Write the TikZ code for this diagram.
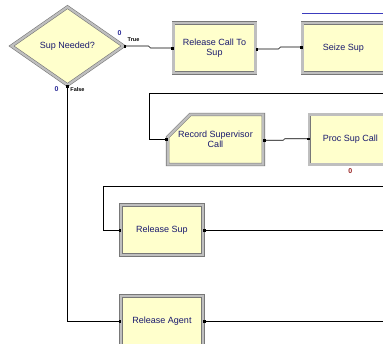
\documentclass[tikz,border=0pt]{standalone}
\usepackage{fontspec}
\setmainfont{Liberation Sans}
\usetikzlibrary{shapes.geometric,shapes.misc,arrows.meta,positioning,calc}
\definecolor{modfill}{RGB}{255,255,204}
\definecolor{modtext}{RGB}{25,25,110}
\definecolor{modframe}{RGB}{120,120,120}
\definecolor{cntblue}{RGB}{40,40,150}
\definecolor{cntred}{RGB}{150,30,30}
\definecolor{selblue}{RGB}{60,60,190}

\begin{document}
\begin{tikzpicture}[
    x=1pt, y=-1pt,
    node distance=38pt,
    >={Square[length=2.4pt,width=2.4pt]},
    module/.style={rectangle, draw=modframe, line width=0.6pt, double=black!25, double distance=2.2pt, fill=modfill, minimum width=82pt, minimum height=50pt, inner sep=1pt, outer sep=0pt, align=center, text=modtext, font=\fontsize{9}{10.5}\selectfont},
    decide/.style={module, diamond, minimum width=112pt, minimum height=78pt, aspect=1.5},
    record/.style={module, chamfered rectangle, chamfered rectangle corners=north west, chamfered rectangle xsep=13pt, chamfered rectangle ysep=13pt},
    conn/.style={line width=0.65pt, black},
    lbl/.style={inner sep=0pt, font=\fontsize{5.5}{5.5}\selectfont\bfseries},
    cnt/.style={inner sep=0pt, font=\fontsize{7}{7}\selectfont\bfseries}
]
    \fill[white] (0,0) rectangle (383,343);
    \useasboundingbox (0,0) rectangle (383,343);
    \clip (0,0) rectangle (383,343);

    % Decision
    \node[decide] (dec) at (67.5,46) {Sup Needed?};

    % True branch
    \node[module] (rcall) at (214.5,48) {Release Call To\\Sup};
    \node[module, right=47pt of rcall] (seize) {Seize Sup};
    \node[record] (rec) at (215.5,139.5) {Record Supervisor\\Call};
    \node[module, right=46pt of rec] (proc) {Proc Sup Call};
    \node[module] (rsup) at (162,230) {Release Sup};

    % False branch
    \node[module, below=41pt of rsup] (ragent) {Release Agent};

    % Free ends
    \coordinate (inrec) at (395,93);
    \coordinate (inrsup) at (395,186);
    \coordinate (outrsup) at (395,230);
    \coordinate (outagent) at (395,321);
    \coordinate (bluea) at (302,13);
    \coordinate (blueb) at (395,13);

    % Labels
    \node[lbl] (ltrue) at ([shift={(10,-6)}]dec.east) {True};
    \node[cnt, text=cntblue] (ctrue) at ([shift={(-4,-13)}]dec.east) {0};
    \node[lbl] (lfalse) at ([shift={(10,5)}]dec.south) {False};
    \node[cnt, text=cntblue] (cfalse) at ([shift={(-11,4)}]dec.south) {0};
    \node[cnt, text=cntred, below=4pt of proc] (cproc) {0};

    % Edges
    \draw[conn, <->] (dec.east) -- ++(25,0) -- ++(2,2) -- (rcall.west);
    \draw[conn, <->] ([yshift=-1pt]rcall.east) -- ++(23,0) -- ++(2,-2) -- ([yshift=1pt]seize.west);
    \draw[conn, ->] (inrec) -| ($(rec.west)+(-18,0)$) -- (rec.west);
    \draw[conn, <->] ([yshift=-0.7pt]rec.east) -- ++(20,0) -- ++(1.5,-1.5) -- ([yshift=0.8pt]proc.west);
    \draw[conn, ->] (inrsup) -| ($(rsup.west)+(-18,0)$) -- (rsup.west);
    \draw[conn, <-] (rsup.east) -- (outrsup);
    \draw[conn, <->] (dec.south) |- (ragent.west);
    \draw[conn, <-] (ragent.east) -- (outagent);
    \draw[line width=0.8pt, selblue] (bluea) -- (blueb);
\end{tikzpicture}
\end{document}
